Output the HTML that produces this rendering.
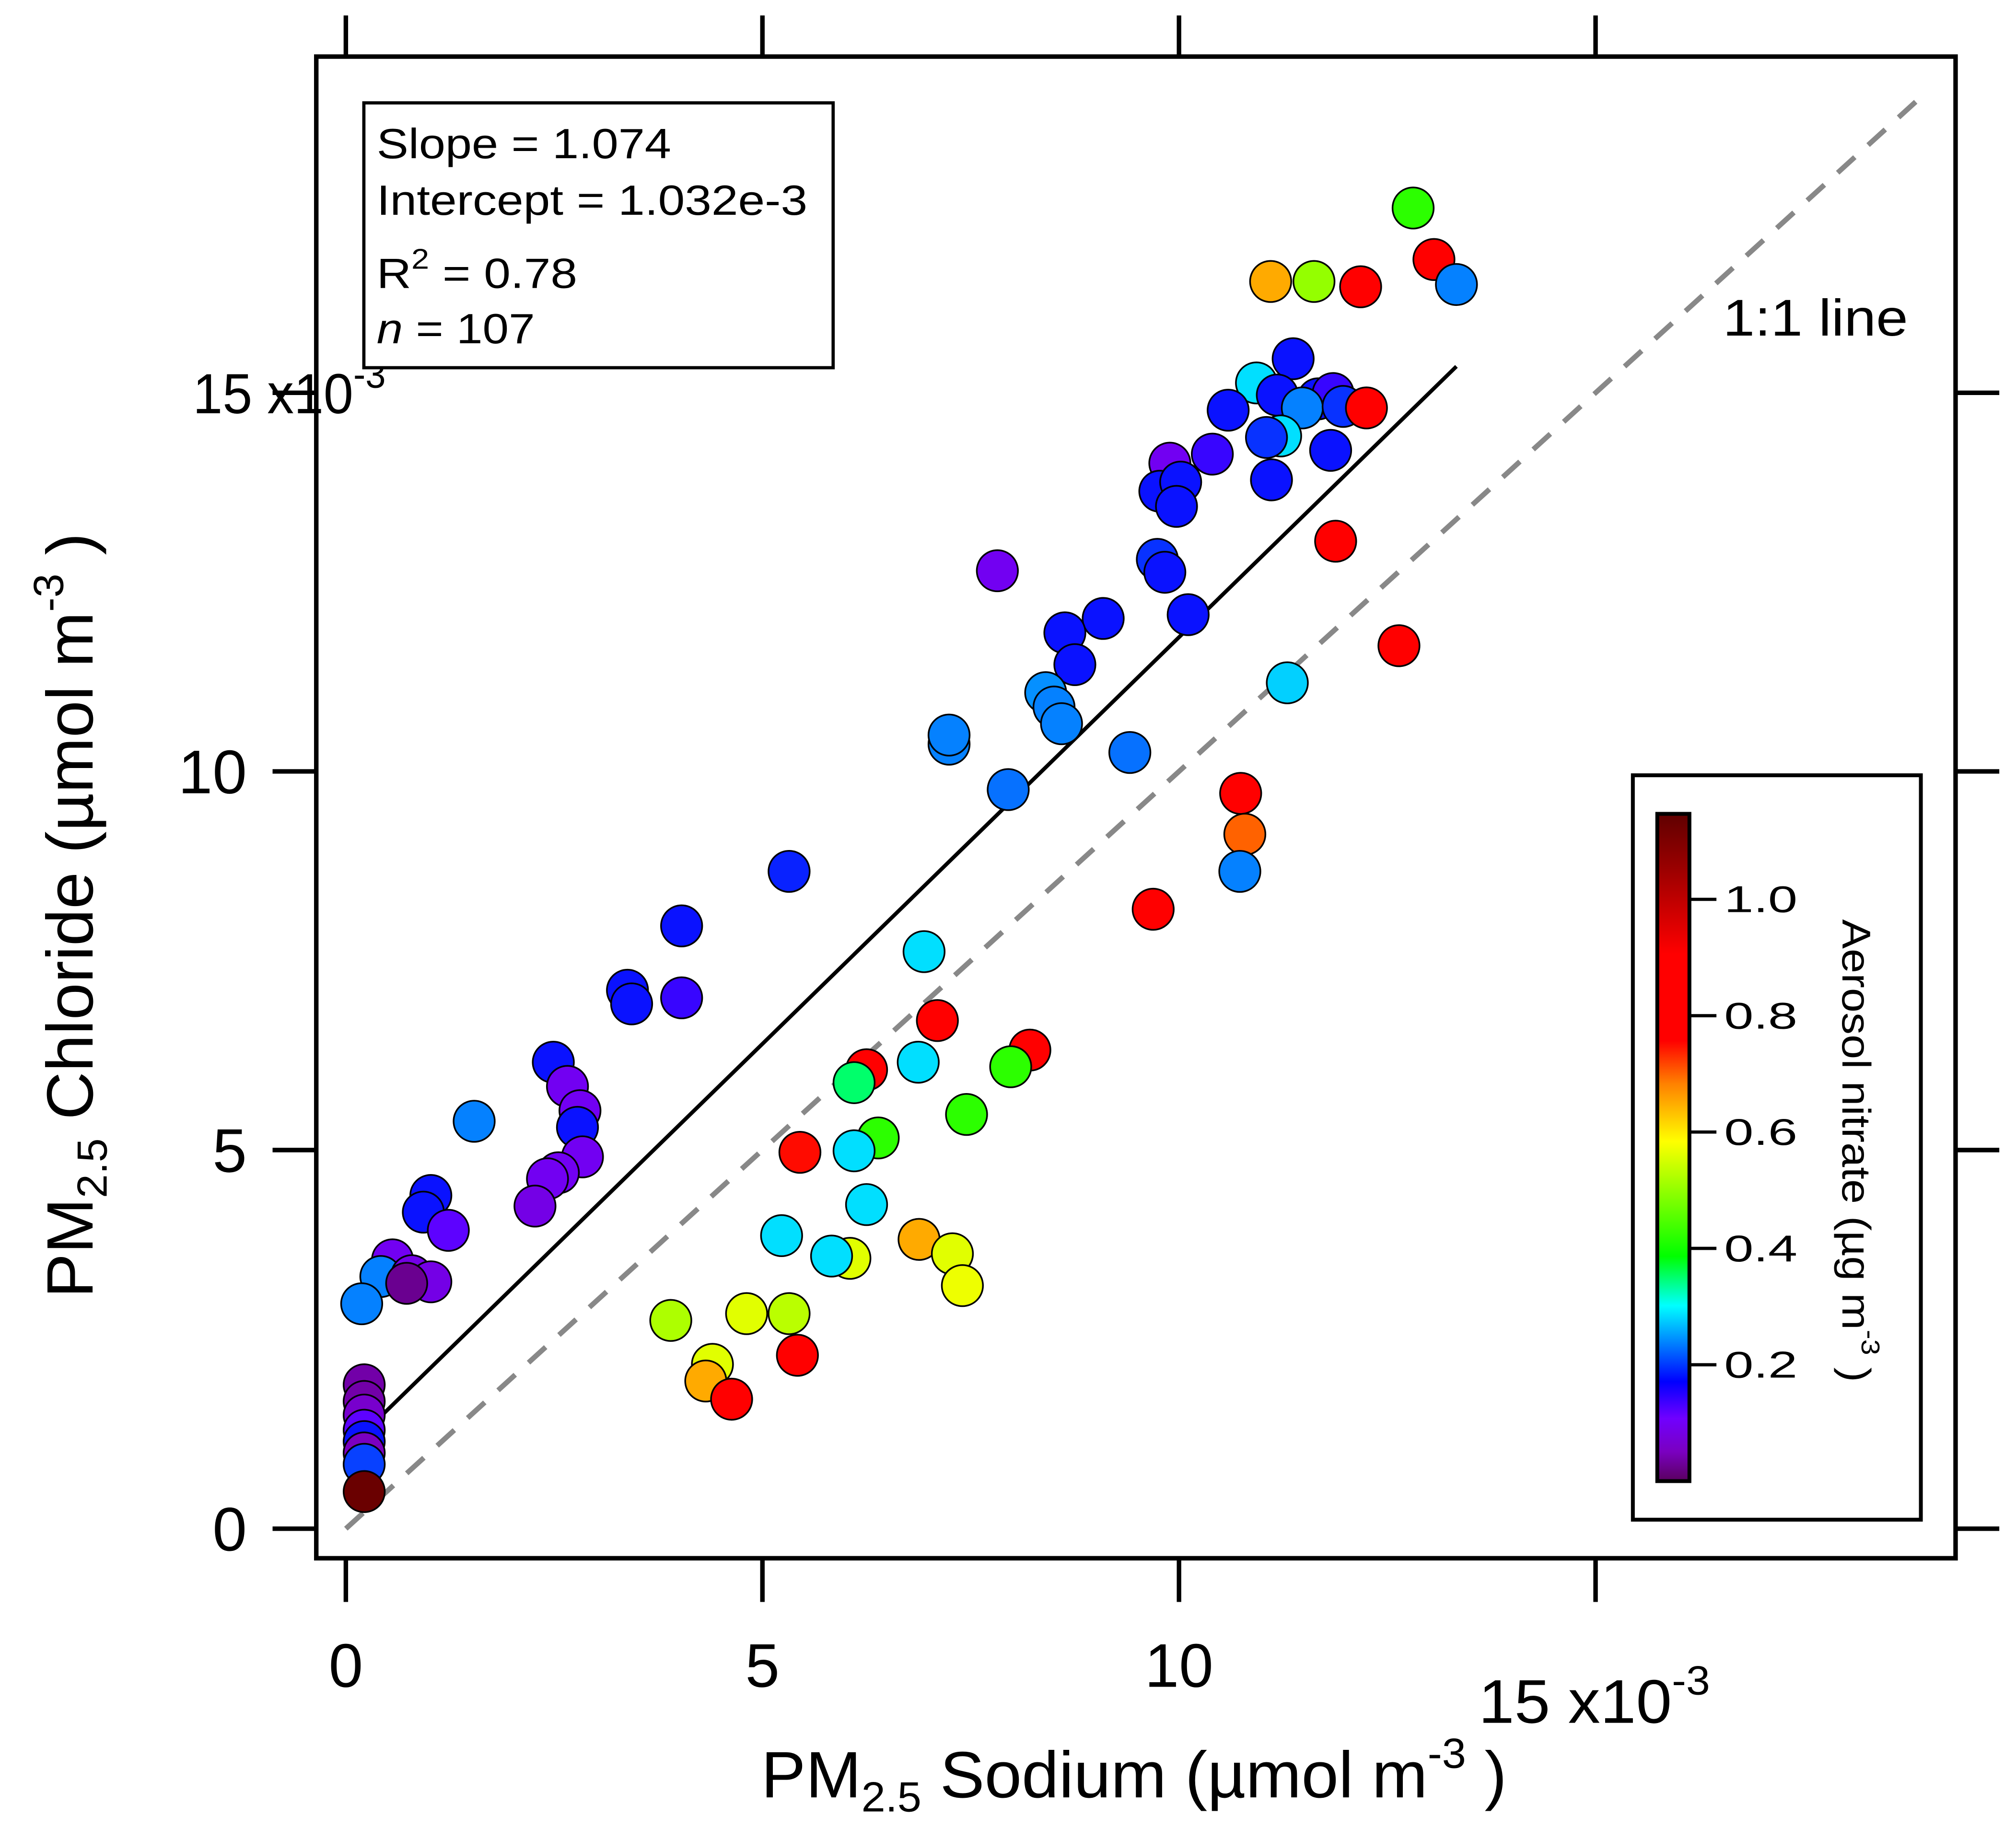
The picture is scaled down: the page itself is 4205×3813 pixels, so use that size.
<!DOCTYPE html>
<html><head><meta charset="utf-8"><style>html,body{margin:0;padding:0;background:#fff}svg{display:block}text{font-family:"Liberation Sans",Arial,sans-serif;fill:#000}</style></head>
<body>
<svg id="chart" xmlns="http://www.w3.org/2000/svg" width="4205" height="3813" viewBox="0 0 1568 1421.8">
<defs>
<linearGradient id="cbgrad" x1="0" y1="1" x2="0" y2="0">
<stop offset="0" stop-color="#5a005f"/>
<stop offset="0.044" stop-color="#7a00c0"/>
<stop offset="0.094" stop-color="#7000ff"/>
<stop offset="0.149" stop-color="#0000ff"/>
<stop offset="0.263" stop-color="#00ffff"/>
<stop offset="0.337" stop-color="#00ff00"/>
<stop offset="0.509" stop-color="#ffff00"/>
<stop offset="0.596" stop-color="#ff8000"/>
<stop offset="0.66" stop-color="#ff0000"/>
<stop offset="0.79" stop-color="#ff0000"/>
<stop offset="0.92" stop-color="#990000"/>
<stop offset="1" stop-color="#600000"/>
</linearGradient>
</defs>
<g id="plot"></g>
<rect x="246" y="44" width="1275" height="1168" fill="none" stroke="#000" stroke-width="3.5"/>
<g id="ticks"></g>
<g>
<rect x="283" y="80" width="365" height="206" fill="#fff" stroke="#000" stroke-width="2.5"/>
<text x="293" y="123" font-size="33" textLength="229" lengthAdjust="spacingAndGlyphs">Slope = 1.074</text>
<text x="293" y="167" font-size="33" textLength="335" lengthAdjust="spacingAndGlyphs">Intercept = 1.032e-3</text>
<text x="293" y="224" font-size="33" textLength="156" lengthAdjust="spacingAndGlyphs">R<tspan font-size="22" dy="-15">2</tspan><tspan dy="15"> = 0.78</tspan></text>
<text x="293" y="267" font-size="33" textLength="123" lengthAdjust="spacingAndGlyphs"><tspan font-style="italic">n</tspan> = 107</text>
</g>
<text x="1340" y="261" font-size="40" textLength="144" lengthAdjust="spacingAndGlyphs">1:1 line</text>
<g>
<rect x="1270" y="603" width="224" height="579" fill="#fff" stroke="#000" stroke-width="3"/>
<rect x="1289" y="633" width="25" height="519" fill="url(#cbgrad)" stroke="#000" stroke-width="3"/>
<g id="cbticks"></g>
<text transform="translate(1433,895) rotate(90)" text-anchor="middle" font-size="31" textLength="360" lengthAdjust="spacingAndGlyphs">Aerosol nitrate (µg m<tspan font-size="20" dy="-15">-3</tspan><tspan dy="15"> )</tspan></text>
</g>
<text transform="translate(72,712) rotate(-90)" text-anchor="middle" font-size="51" textLength="595" lengthAdjust="spacingAndGlyphs">PM<tspan font-size="33" dy="11">2.5</tspan><tspan dy="-11"> Chloride (µmol m</tspan><tspan font-size="33" dy="-23">-3</tspan><tspan dy="23"> )</tspan></text>
<text x="882" y="1398" text-anchor="middle" font-size="51" textLength="580" lengthAdjust="spacingAndGlyphs">PM<tspan font-size="33" dy="11">2.5</tspan><tspan dy="-11"> Sodium (µmol m</tspan><tspan font-size="33" dy="-23">-3</tspan><tspan dy="23"> )</tspan></text>
</svg>
<script>
const xTicks=[0,5,10,15];
const yTicks=[0,5,10,15];
const cbTicks=[0.2,0.4,0.6,0.8,1.0];
const xs=[12.81,13.06,11.10,11.62,12.18,13.33,11.37,10.93,11.18,11.67,11.85,11.48,11.97,12.25,10.59,11.22,11.05,11.82,10.40,9.89,11.11,9.77,10.02,9.97,11.88,7.82,9.74,9.83,9.09,10.11,8.63,8.75,12.64,11.30,8.40,8.50,8.59,7.24,7.24,9.41,7.95,10.74,10.79,10.73,5.32,9.69,4.03,6.94,3.38,3.43,4.03,7.10,8.21,6.25,6.87,7.98,6.10,2.49,2.66,2.81,1.54,7.45,2.78,6.39,5.45,6.10,2.84,2.55,2.42,2.27,6.25,1.02,0.93,1.23,5.23,6.88,6.05,5.83,7.28,0.56,0.42,0.79,1.02,0.73,7.40,0.19,3.90,4.81,5.32,5.42,4.40,4.32,4.63,0.22,0.22,0.22,0.22,0.22,0.22,0.22,0.22];
const ys=[17.44,16.76,16.47,16.47,16.40,16.43,15.45,15.13,14.97,14.92,14.99,14.80,14.82,14.80,14.77,14.43,14.41,14.24,14.19,14.07,13.85,13.70,13.82,13.50,13.04,12.65,12.80,12.63,12.02,12.07,11.83,11.41,11.66,11.17,11.04,10.85,10.63,10.36,10.48,10.25,9.76,9.71,9.17,8.68,8.68,8.18,7.96,7.62,7.11,6.93,7.01,6.71,6.32,6.06,6.16,6.10,5.89,6.16,5.84,5.52,5.38,5.47,5.30,5.16,4.97,4.99,4.91,4.70,4.62,4.26,4.28,4.40,4.18,3.94,3.87,3.82,3.57,3.60,3.63,3.55,3.33,3.34,3.26,3.24,3.21,2.97,2.75,2.84,2.84,2.29,2.17,1.95,1.71,1.90,1.68,1.50,1.30,1.15,1.00,0.85,0.49];
const nitrate=[0.42,0.85,0.65,0.50,0.85,0.22,0.15,0.28,0.15,0.15,0.12,0.22,0.17,0.85,0.15,0.28,0.17,0.15,0.12,0.08,0.15,0.15,0.15,0.15,0.85,0.08,0.17,0.15,0.15,0.15,0.15,0.15,0.85,0.27,0.23,0.22,0.22,0.22,0.22,0.21,0.21,0.85,0.70,0.22,0.16,0.85,0.15,0.28,0.15,0.15,0.12,0.85,0.85,0.85,0.28,0.42,0.35,0.15,0.08,0.08,0.22,0.42,0.15,0.42,0.75,0.28,0.08,0.08,0.08,0.07,0.28,0.15,0.15,0.10,0.28,0.65,0.56,0.28,0.56,0.08,0.22,0.07,0.07,0.02,0.57,0.22,0.52,0.56,0.53,0.85,0.56,0.65,0.85,0.03,0.03,0.05,0.10,0.15,0.04,0.18,1.13];
const fitSlope=1.074, fitIntercept=1.032;
const fitRange=[0.22,13.33];
const oneRange=[0,19.0];

const NS="http://www.w3.org/2000/svg";
function sx(v){return 269+v*64.8;}
function sy(v){return 1189-v*58.9;}
function cy(v){return 1152-v*452.5;}
const stops=[[0,[90,0,95]],[0.04,[122,0,192]],[0.09,[112,0,255]],[0.145,[10,10,255]],[0.30,[0,255,255]],[0.386,[0,255,0]],[0.583,[255,255,0]],[0.683,[255,128,0]],[0.756,[255,0,0]],[0.905,[255,0,0]],[1.054,[153,0,0]],[1.146,[96,0,0]]];
function color(v){
  if(v<=stops[0][0])return 'rgb('+stops[0][1]+')';
  for(let i=1;i<stops.length;i++){
    if(v<=stops[i][0]){const a=stops[i-1],b=stops[i];const t=(v-a[0])/(b[0]-a[0]);
      return 'rgb('+a[1].map((c,k)=>Math.round(c+(b[1][k]-c)*t)).join(',')+')';}
  }
  return 'rgb('+stops[stops.length-1][1]+')';
}
function mk(tag,attrs,parent){const e=document.createElementNS(NS,tag);for(const k in attrs)e.setAttribute(k,attrs[k]);parent.appendChild(e);return e;}
const plot=document.getElementById('plot');
const ticks=document.getElementById('ticks');
let l1=mk('line',{x1:sx(oneRange[0]),y1:sy(oneRange[0]),x2:sx(oneRange[1]),y2:sy(oneRange[1]),stroke:'#888','stroke-width':4,'stroke-dasharray':'18,14'},plot);


let fl=mk('line',{x1:sx(fitRange[0]),y1:sy(fitSlope*fitRange[0]+fitIntercept),x2:sx(fitRange[1]),y2:sy(fitSlope*fitRange[1]+fitIntercept),stroke:'#000','stroke-width':3},plot);


for(let i=0;i<xs.length;i++){
  const c=mk('circle',{cx:sx(xs[i]),cy:sy(ys[i]),r:16,fill:color(nitrate[i]),stroke:'#000','stroke-width':1.3},plot);
  
  
}
xTicks.forEach(v=>{
  const x=sx(v);
  let t1=mk('line',{x1:x,y1:1212,x2:x,y2:1246,stroke:'#000','stroke-width':3.5},ticks);
  
  
  let t2=mk('line',{x1:x,y1:44,x2:x,y2:12,stroke:'#000','stroke-width':3.5},ticks);
  
  
  const lab=mk('text',{x:x,y:v===15?1340:1312,'text-anchor':v===15?'start':'middle','font-size':48},ticks);
  if(v===15){lab.setAttribute('x',1150);lab.setAttribute('textLength',180);lab.setAttribute('lengthAdjust','spacingAndGlyphs');lab.innerHTML='15 x10<tspan font-size="32" dy="-22">-3</tspan>';}
  else lab.textContent=v;
  
  
});
yTicks.forEach(v=>{
  const y=sy(v);
  let t1=mk('line',{x1:212,y1:y,x2:246,y2:y,stroke:'#000','stroke-width':3.5},ticks);
  
  
  let t2=mk('line',{x1:1521,y1:y,x2:1555,y2:y,stroke:'#000','stroke-width':3.5},ticks);
  
  
  const lab=mk('text',{x:v===15?150:192,y:y+17,'text-anchor':v===15?'start':'end','font-size':48},ticks);
  if(v===15){lab.setAttribute('y',y+16);lab.setAttribute('font-size',44);lab.setAttribute('textLength',150);lab.setAttribute('lengthAdjust','spacingAndGlyphs');lab.innerHTML='15 x10<tspan font-size="30" dy="-20">-3</tspan>';}
  else lab.textContent=v;
  
  
});
const cbt=document.getElementById('cbticks');
cbTicks.forEach(v=>{
  const y=cy(v);
  let t=mk('line',{x1:1314,y1:y,x2:1335,y2:y,stroke:'#000','stroke-width':2.5},cbt);
  
  
  let lab=mk('text',{x:1341,y:y+10,'font-size':29,textLength:57,lengthAdjust:'spacingAndGlyphs'},cbt);
  lab.textContent=v.toFixed(1);
  
  
});
</script>
</body></html>
